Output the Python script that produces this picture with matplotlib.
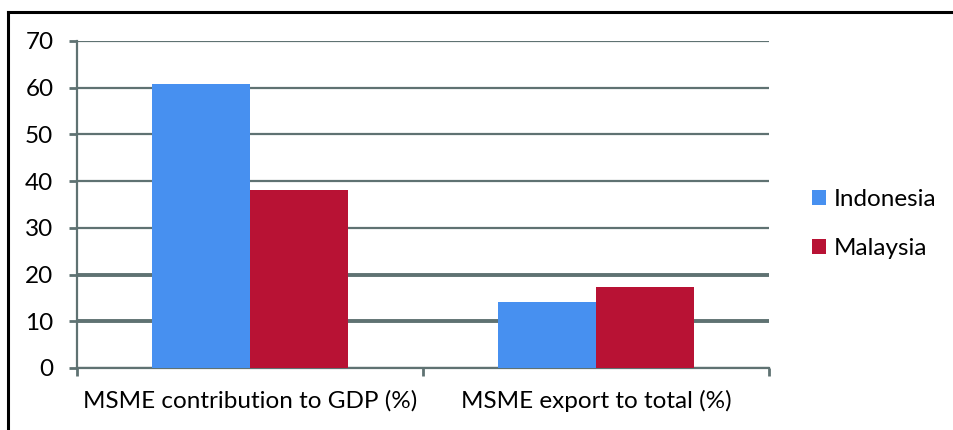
import numpy as np
import matplotlib.pyplot as plt
from matplotlib.lines import Line2D

categories = ["MSME contribution to GDP (%)", "MSME export to total (%)"]
indonesia = [60.8, 14.2]
malaysia = [38.1, 17.3]
yticks = [0, 10, 20, 30, 40, 50, 60, 70]

blue = "#4790f0"
red = "#b81234"
grid_c = "#5f7272"

plt.rcParams["font.family"] = ["Lato", "DejaVu Sans"]

fig = plt.figure(figsize=(9.54, 4.30), dpi=100)
ax = fig.add_axes([0.0807, 0.1442, 0.7254, 0.7605])

x = np.arange(len(categories))
w = 0.283
ax.bar(x - w / 2, indonesia, w, color=blue, label="Indonesia", zorder=3)
ax.bar(x + w / 2, malaysia, w, color=red, label="Malaysia", zorder=3)

ax.set_xlim(-0.5, 1.5)
ax.set_ylim(0, 70)
ax.set_yticks(yticks)
ax.tick_params(axis="y", length=6, width=2, color=grid_c, labelsize=17.5, pad=11)

# category labels centred, ticks on the category boundaries
ax.set_xticks(x)
ax.set_xticklabels(categories, fontsize=17.5)
ax.tick_params(axis="x", length=0, pad=16)
ax.set_xticks([-0.5, 0.5, 1.5], minor=True)
ax.tick_params(axis="x", which="minor", length=6, width=2, color=grid_c)

ax.yaxis.grid(True, color=grid_c, linewidth=1.6, zorder=0)
for gl, lw in zip(ax.get_ygridlines(), [0, 2.8, 2.8, 1.6, 1.6, 1.6, 1.6, 1.6]):
    if lw:
        gl.set_linewidth(lw)
ax.set_axisbelow(True)

for s in ["top", "right"]:
    ax.spines[s].set_visible(False)
for s in ["left", "bottom"]:
    ax.spines[s].set_color(grid_c)
    ax.spines[s].set_linewidth(1.6)

leg = ax.legend(loc="center left", bbox_to_anchor=(1.03, 0.44), frameon=False,
                fontsize=17.5, handlelength=0.6, handleheight=0.6,
                handletextpad=0.3, labelspacing=1.15)

# outer frame: top and left edges only
fig.add_artist(Line2D([8 / 954, 1.0], [1 - 12 / 430, 1 - 12 / 430],
                      transform=fig.transFigure, color="black", linewidth=2.2))
fig.add_artist(Line2D([8 / 954, 8 / 954], [0, 1 - 12 / 430],
                      transform=fig.transFigure, color="black", linewidth=2.2))

fig.savefig("out.png", dpi=100)
